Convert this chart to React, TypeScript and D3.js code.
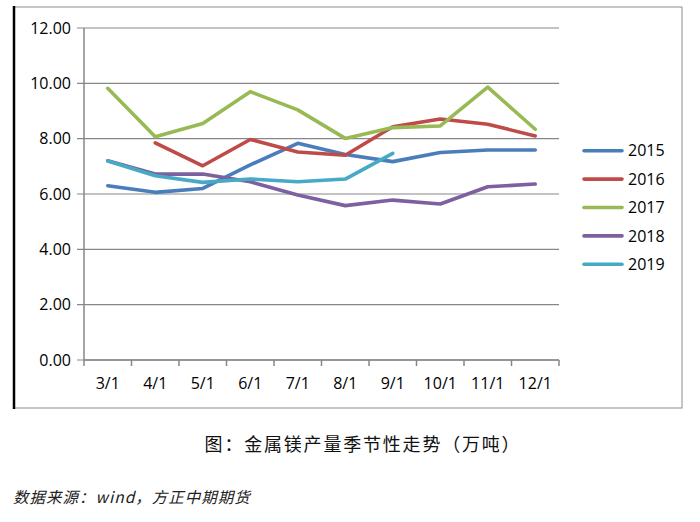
import React from "react";
import * as d3 from "d3";

const categories = ["3/1", "4/1", "5/1", "6/1", "7/1", "8/1", "9/1", "10/1", "11/1", "12/1"];
const seriesNames = ["2015", "2016", "2017", "2018", "2019"];
const s2015 = [6.3, 6.06, 6.2, 7.05, 7.83, 7.43, 7.17, 7.5, 7.59, 7.59];
const s2016 = [null, 7.85, 7.02, 7.97, 7.52, 7.4, 8.43, 8.71, 8.52, 8.1];
const s2017 = [9.82, 8.07, 8.55, 9.7, 9.04, 8.01, 8.4, 8.46, 9.86, 8.34];
const s2018 = [7.2, 6.72, 6.72, 6.44, 5.96, 5.58, 5.78, 5.64, 6.26, 6.36];
const s2019 = [7.19, 6.66, 6.42, 6.54, 6.44, 6.54, 7.47, null, null, null];
const seriesValues: (number | null)[][] = [s2015, s2016, s2017, s2018, s2019];
const colors = ["#4A7EBB", "#BE4B48", "#98B954", "#7D60A0", "#46AAC5"];
const yTicks = [0, 2, 4, 6, 8, 10, 12];
const title = "图：金属镁产量季节性走势（万吨）";
const source = "数据来源：wind，方正中期期货";

export default function App() {
  const left = 84, right = 559, top = 28, bottom = 360;
  const x = d3.scaleBand<string>().domain(categories).range([left, right]);
  const y = d3.scaleLinear().domain([0, 12]).range([bottom, top]);
  const line = d3
    .line<number | null>()
    .defined((d) => d !== null)
    .x((_, i) => (x(categories[i]) as number) + x.bandwidth() / 2)
    .y((d) => y(d as number));
  const font = "'Open Sans', 'Liberation Sans', sans-serif";
  const tickEdges = categories.map((c) => x(c) as number).concat([right]);
  return (
    <svg width={700} height={522} style={{ position: "absolute", left: 0, top: 0, background: "#fff" }}>
      <rect x={14} y={7} width={668} height={401} fill="none" stroke="#8c8c8c" strokeWidth={1} />
      <line x1={14} x2={14} y1={6} y2={409} stroke="#000" strokeWidth={2.5} />
      {yTicks.map((t) => (
        <g key={t}>
          <line x1={left - 7} x2={right} y1={y(t)} y2={y(t)} stroke="#878787" strokeWidth={1.2} />
          <text x={71} y={y(t)} dy="0.35em" textAnchor="end" fontFamily={font} fontSize={16} fill="#000">
            {t.toFixed(2)}
          </text>
        </g>
      ))}
      <line x1={left} x2={left} y1={top} y2={bottom} stroke="#878787" strokeWidth={1.5} />
      <line x1={left} x2={right} y1={bottom} y2={bottom} stroke="#878787" strokeWidth={1.5} />
      {tickEdges.map((e, i) => (
        <line key={i} x1={e} x2={e} y1={bottom} y2={bottom + 6} stroke="#878787" strokeWidth={1.5} />
      ))}
      {categories.map((c) => (
        <text key={c} x={(x(c) as number) + x.bandwidth() / 2} y={383} dy="0.35em" textAnchor="middle" fontFamily={font} fontSize={16} fill="#000">
          {c}
        </text>
      ))}
      {seriesValues.map((vals, i) => (
        <path key={i} d={line(vals) || ""} fill="none" stroke={colors[i]} strokeWidth={3.6} strokeLinejoin="round" strokeLinecap="round" />
      ))}
      {seriesNames.map((n, i) => (
        <g key={n}>
          <line x1={584} x2={622} y1={150.7 + i * 28.4} y2={150.7 + i * 28.4} stroke={colors[i]} strokeWidth={3.6} strokeLinecap="round" />
          <text x={628} y={150.7 + i * 28.4} dy="0.35em" fontFamily={font} fontSize={16} fill="#000">
            {n}
          </text>
        </g>
      ))}
      <text x={363} y={451} textAnchor="middle" fontFamily="'Noto Sans CJK SC', sans-serif" fontSize={18} letterSpacing={1.8} fill="#111">
        {title}
      </text>
      <text x={13} y={503} fontFamily="'Noto Sans CJK SC', sans-serif" fontStyle="italic" fontSize={15.5} letterSpacing={1} fill="#222">
        {source}
      </text>
    </svg>
  );
}
